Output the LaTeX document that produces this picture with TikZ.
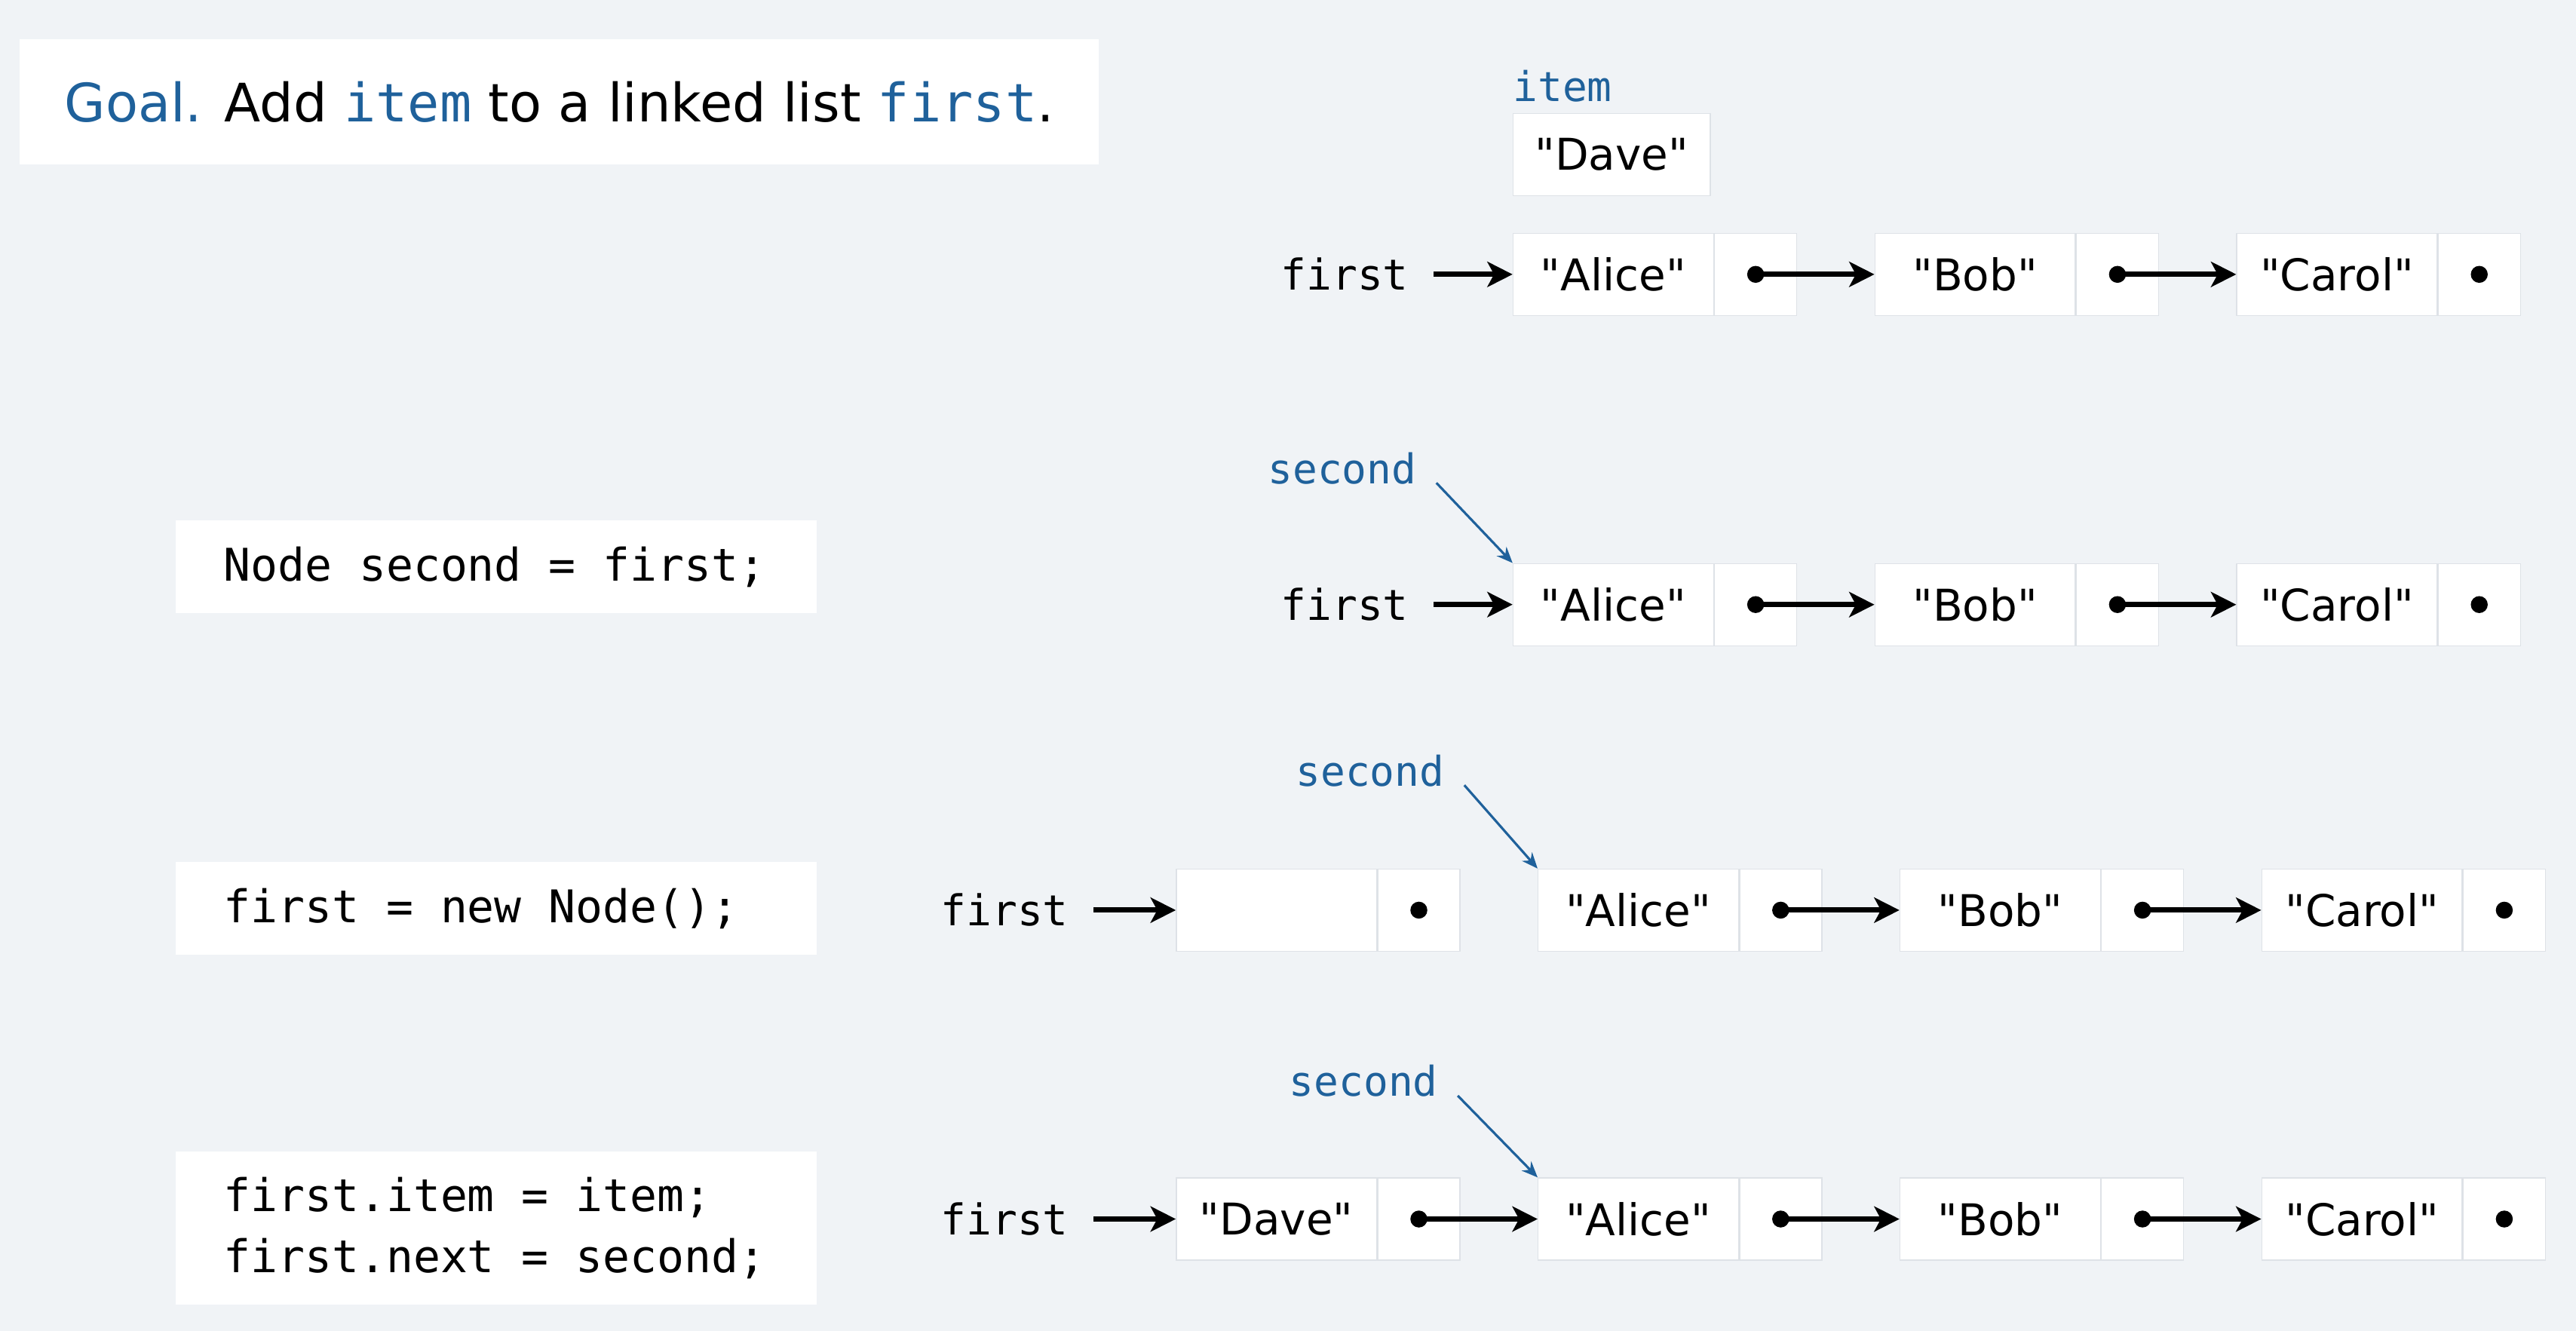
\documentclass[tikz,border=0pt]{standalone}
\usepackage{fontspec}
\setmainfont{DejaVu Sans}[Ligatures=TeXOff]
\setmonofont{DejaVu Sans Mono}
\usetikzlibrary{positioning,arrows.meta}
\definecolor{bgcol}{RGB}{240,243,246}
\definecolor{lblue}{RGB}{31,97,155}
\definecolor{cellline}{RGB}{222,226,231}
\DeclareRobustCommand\codefont{\ttfamily\fontsize{17}{23}\selectfont\spaceskip=0.602em\relax}

\begin{document}
\begin{tikzpicture}[x=0.6198pt,y=-0.6198pt,
    cellval/.style={rectangle,draw=cellline,fill=white,minimum width=75.6pt,minimum height=31pt,inner sep=0pt,
        font=\fontsize{16.5}{20}\selectfont},
    cellptr/.style={rectangle,draw=cellline,fill=white,minimum width=31pt,minimum height=31pt,inner sep=0pt,
        path picture={\fill[black] (path picture bounding box.center) circle[radius=3.2pt];}},
    varlabel/.style={font=\ttfamily\fontsize{16}{19}\selectfont,inner xsep=9.3pt,inner ysep=0pt},
    bluelabel/.style={font=\ttfamily\fontsize{15.5}{19}\selectfont,text=lblue},
    codebox/.style={rectangle,fill=white,text width=205.8pt,inner xsep=18pt,align=flush left,minimum height=35pt,
        font=\codefont},
    nextarrow/.style={line width=2pt,-{Stealth[length=9.5pt,width=9.5pt,inset=2.5pt]}},
    bluearrow/.style={draw=lblue,line width=0.9pt,-{Stealth[length=6pt,width=5pt]}},
    node distance=29.1pt]
            \fill[bgcol] (0,0) rectangle (1568,810);
            \useasboundingbox (0,0) rectangle (1568,810);

            \node[rectangle,fill=white,minimum width=407.2pt,minimum height=47.1pt,font=\fontsize{20}{24}\selectfont] (goal) at (340.5,62)
                {\textcolor{lblue}{Goal.} Add \texttt{\textcolor{lblue}{item}} to a linked list \texttt{\textcolor{lblue}{first}}.};

            % the list and the new item
            \node[cellval,minimum width=74.4pt] (dave0) at (981,94) {"Dave"};
            \node[bluelabel,inner sep=0pt] (item0) [above right=4pt and 0pt of dave0.north west] {item};
            \node[cellval] (alice1) at (982,167) {"Alice"};
            \node[cellptr] (alicep1) [right=0pt of alice1] {};
            \node[cellval] (bob1)   [right=of alicep1] {"Bob"};
            \node[cellptr] (bobp1)  [right=0pt of bob1] {};
            \node[cellval] (carol1) [right=of bobp1] {"Carol"};
            \node[cellptr] (carolp1) [right=0pt of carol1] {};
            \node[varlabel] (first1) [left=29.75pt of alice1] {first};
            \draw[nextarrow] (first1) -- (alice1);
            \draw[nextarrow] (alicep1.center) -- (bob1);
            \draw[nextarrow] (bobp1.center) -- (carol1);

            % Node second = first;
            \node[codebox] (code2) at (302,345) {Node second = first;};
            \node[cellval] (alice2) at (982,368) {"Alice"};
            \node[cellptr] (alicep2) [right=0pt of alice2] {};
            \node[cellval] (bob2)   [right=of alicep2] {"Bob"};
            \node[cellptr] (bobp2)  [right=0pt of bob2] {};
            \node[cellval] (carol2) [right=of bobp2] {"Carol"};
            \node[cellptr] (carolp2) [right=0pt of carol2] {};
            \node[varlabel] (first2) [left=29.75pt of alice2] {first};
            \node[bluelabel] (second2) at (817,285) {second};
            \draw[nextarrow] (first2) -- (alice2);
            \draw[nextarrow] (alicep2.center) -- (bob2);
            \draw[nextarrow] (bobp2.center) -- (carol2);
            \draw[bluearrow] ([shift={(4pt,4pt)}]second2.south east) -- (alice2.north west);

            % first = new Node();
            \node[codebox] (code3) at (302,553) {first = new Node();};
            \node[cellval] (new3) at (777,554) {};
            \node[cellptr] (newp3) [right=0pt of new3] {};
            \node[cellval] (alice3) [right=of newp3] {"Alice"};
            \node[cellptr] (alicep3) [right=0pt of alice3] {};
            \node[cellval] (bob3)   [right=of alicep3] {"Bob"};
            \node[cellptr] (bobp3)  [right=0pt of bob3] {};
            \node[cellval] (carol3) [right=of bobp3] {"Carol"};
            \node[cellptr] (carolp3) [right=0pt of carol3] {};
            \node[varlabel] (first3) [left=31pt of new3] {first};
            \node[bluelabel] (second3) at (834,469) {second};
            \draw[nextarrow] (first3) -- (new3);
            \draw[nextarrow] (alicep3.center) -- (bob3);
            \draw[nextarrow] (bobp3.center) -- (carol3);
            \draw[bluearrow] ([shift={(4pt,4pt)}]second3.south east) -- (alice3.north west);

            % first.item = item; first.next = second;
            \node[codebox,minimum height=57.6pt] (code4) at (302,747.5) {first.item = item;\\first.next = second;};
            \node[cellval] (dave4) at (777,742) {"Dave"};
            \node[cellptr] (davep4) [right=0pt of dave4] {};
            \node[cellval] (alice4) [right=of davep4] {"Alice"};
            \node[cellptr] (alicep4) [right=0pt of alice4] {};
            \node[cellval] (bob4)   [right=of alicep4] {"Bob"};
            \node[cellptr] (bobp4)  [right=0pt of bob4] {};
            \node[cellval] (carol4) [right=of bobp4] {"Carol"};
            \node[cellptr] (carolp4) [right=0pt of carol4] {};
            \node[varlabel] (first4) [left=31pt of dave4] {first};
            \node[bluelabel] (second4) at (830,658) {second};
            \draw[nextarrow] (first4) -- (dave4);
            \draw[nextarrow] (davep4.center) -- (alice4);
            \draw[nextarrow] (alicep4.center) -- (bob4);
            \draw[nextarrow] (bobp4.center) -- (carol4);
            \draw[bluearrow] ([shift={(4pt,4pt)}]second4.south east) -- (alice4.north west);
        \end{tikzpicture}
\end{document}
